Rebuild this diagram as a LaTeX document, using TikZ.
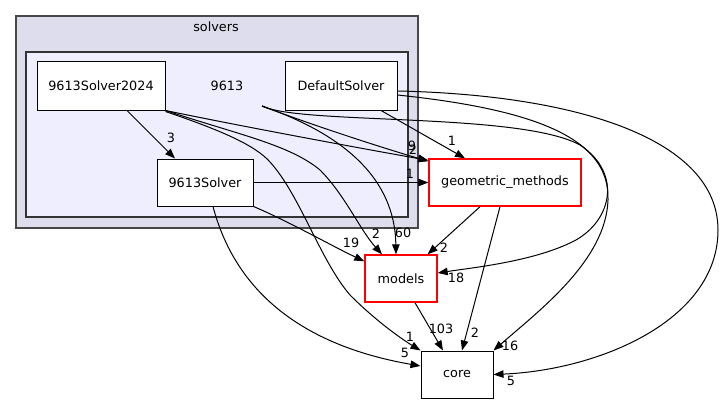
\documentclass[tikz,border=0pt]{standalone}
\usepackage{fontspec}
\setmainfont{DejaVu Sans}
\usetikzlibrary{arrows.meta}
\definecolor{outerfill}{HTML}{DDDDEE}
\definecolor{innerfill}{HTML}{EEEEFF}
\definecolor{outerline}{HTML}{484848}
\definecolor{innerline}{HTML}{333333}
\newcommand{\dfont}{\fontsize{12.8}{15}\selectfont}
\tikzset{
  dirbox/.style={draw=black, fill=white, line width=1pt, minimum height=47pt, inner sep=0pt, font=\dfont},
  redbox/.style={dirbox, draw=red, line width=1.4pt},
  edge/.style={draw=black, line width=1pt, -{Triangle[length=10pt,width=7.5pt]}},
  elabel/.style={font=\dfont, inner sep=0pt},
  cluster/.style={font=\dfont, inner sep=0pt},
}
\begin{document}
\begin{tikzpicture}[x=1pt,y=-1pt]
\useasboundingbox (0,0) rectangle (723,404);
% clusters
\draw[fill=outerfill, draw=outerline, line width=1.8pt] (16,16) rectangle (418,228);
\draw[fill=innerfill, draw=innerline, line width=1.3pt] (26,52) rectangle (408,217);
\node[cluster] (solvers) at (216,27) {solvers};
\node[cluster] (lbl9613) at (227,86) {9613};
% nodes
\node[dirbox, minimum width=128pt, minimum height=48pt] (s2024) at (101,86) {9613Solver2024};
\node[dirbox, minimum width=112pt, minimum height=48pt] (defs) at (341,86) {DefaultSolver};
\node[dirbox, minimum width=96pt] (s9613) at (205,182.5) {9613Solver};
\node[redbox, minimum width=152pt] (geo) at (505,182.5) {geometric\_methods};
\node[redbox, minimum width=72pt] (models) at (401,278.5) {models};
\node[dirbox, minimum width=72pt] (core) at (457,374.5) {core};
\coordinate (p9613) at (262,106);
% edges
\draw[edge] ([xshift=26pt]s2024.south) -- ([xshift=-30pt]s9613.north);
\draw[edge] (s2024.south east) .. controls (250,128) and (370,150) .. ([yshift=-2pt]geo.north west);
\draw[edge] (p9613) .. controls (320,128) and (390,150) .. ([yshift=-3pt]geo.north west);
\draw[edge] (s2024.south east) .. controls (240,135) and (290,145) .. (320,170) .. controls (345,195) and (360,230) .. ([xshift=-19pt]models.north);
\draw[edge] ([yshift=-1pt]s2024.south east) .. controls (220,130) and (255,145) .. (270,162) .. controls (300,195) and (320,260) .. (350,295) .. controls (375,320) and (400,338) .. (core.north west);
\draw[edge] (p9613) .. controls (360,140) and (395,190) .. ([xshift=-5pt]models.north);
\draw[edge] (p9613) .. controls (300,125) and (520,112) .. (580,145) .. controls (625,175) and (610,225) .. (570,243) .. controls (530,262) and (470,268) .. ([yshift=5.5pt]models.east);
\draw[edge] ([xshift=40pt]defs.south) -- ([xshift=-40pt]geo.north);
\draw[edge] ([yshift=-9pt]defs.east) .. controls (540,110) and (610,140) .. (608,200) .. controls (606,260) and (540,310) .. (core.north east);
\draw[edge] ([yshift=-5pt]defs.east) .. controls (580,95) and (718,140) .. (718,230) .. controls (718,320) and (600,370) .. (core.east);
\draw[edge] (s9613.east) -- (geo.west);
\draw[edge] (s9613.south east) .. controls (290,222) and (330,245) .. ([yshift=-7pt]models.north west);
\draw[edge] ([xshift=8pt]s9613.south) .. controls (235,290) and (300,345) .. ([yshift=8.5pt]core.west);
\draw[edge] ([xshift=-25pt]geo.south) -- ([xshift=-10pt]models.north east);
\draw[edge] ([xshift=-5pt]geo.south) -- ([xshift=5pt]core.north);
\draw[edge] ([xshift=14pt]models.south) -- ([xshift=-14pt]core.north);
% edge labels
\node[elabel] (l3) at (171,138) {3};
\node[elabel] (l9) at (412,146) {9};
\node[elabel] (l2a) at (413,150) {2};
\node[elabel] (l1a) at (410,174) {1};
\node[elabel] (l1b) at (452,141) {1};
\node[elabel] (l2b) at (376,234) {2};
\node[elabel] (l60) at (403,233) {60};
\node[elabel] (l19) at (351,243) {19};
\node[elabel] (l2c) at (444,248) {2};
\node[elabel] (l18) at (456,278) {18};
\node[elabel] (l103) at (441,329) {103};
\node[elabel] (l2d) at (475,333) {2};
\node[elabel] (l16) at (510,346) {16};
\node[elabel] (l5a) at (511,381) {5};
\node[elabel] (l1c) at (410,337) {1};
\node[elabel] (l5b) at (405,353) {5};
\end{tikzpicture}
\end{document}
